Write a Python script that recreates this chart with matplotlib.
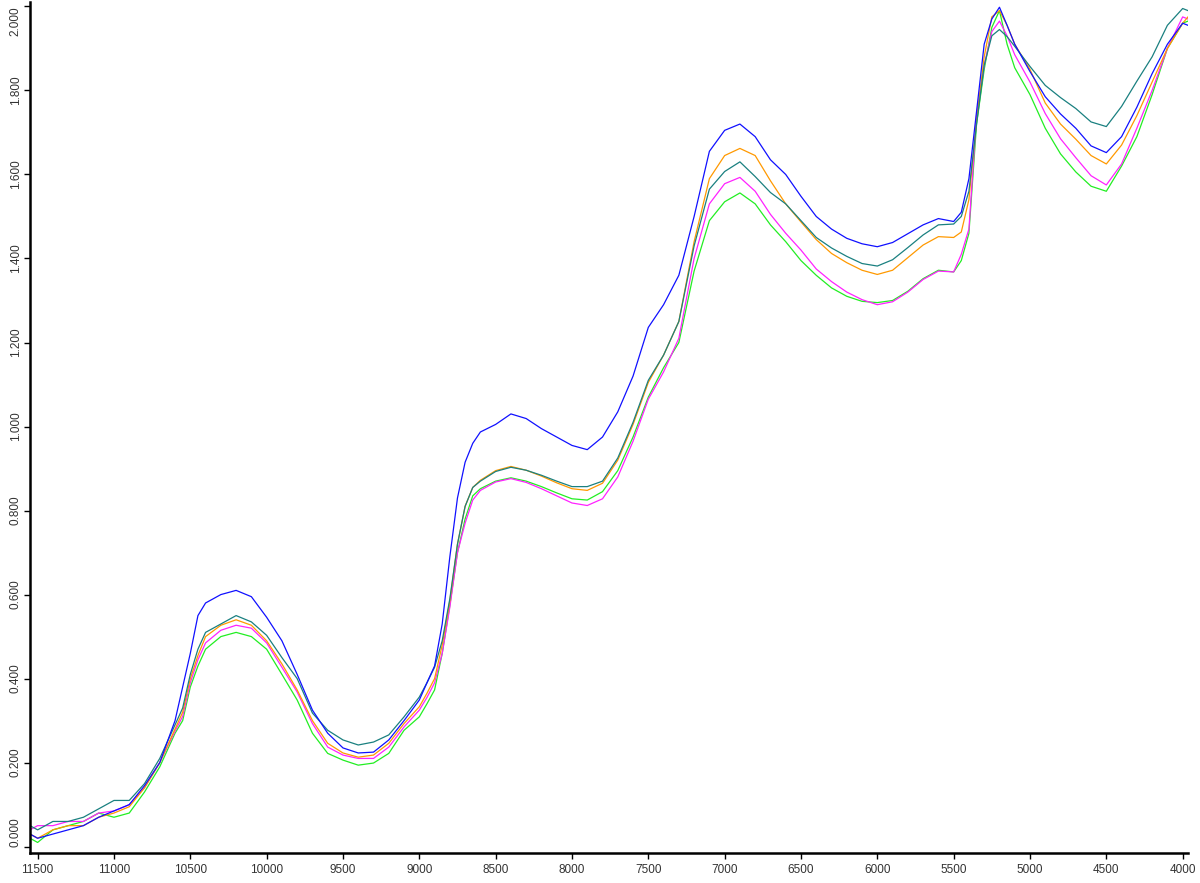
import matplotlib
matplotlib.use("Agg")
import matplotlib.pyplot as plt
from matplotlib.ticker import FormatStrFormatter

plt.rcParams["font.family"] = ["Liberation Sans", "DejaVu Sans"]

wavenumber = [11550, 11500, 11400, 11300, 11200, 11100, 11000, 10900, 10800, 10700,
              10600, 10550, 10500, 10450, 10400, 10300, 10200, 10100, 10000, 9900,
              9800, 9700, 9600, 9500, 9400, 9300, 9200, 9100, 9000, 8950,
              8900, 8850, 8800, 8750, 8700, 8650, 8600, 8500, 8400, 8300,
              8200, 8100, 8000, 7900, 7800, 7700, 7600, 7500, 7400, 7300,
              7200, 7100, 7000, 6900, 6800, 6700, 6600, 6500, 6400, 6300,
              6200, 6100, 6000, 5900, 5800, 5700, 5600, 5500, 5450, 5400,
              5350, 5300, 5250, 5200, 5150, 5100, 5000, 4900, 4800, 4700,
              4600, 4500, 4400, 4300, 4200, 4100, 4000, 3965]

blue = [0.03, 0.02, 0.03, 0.04, 0.05, 0.07, 0.085, 0.10, 0.145, 0.20,
        0.30, 0.38, 0.46, 0.55, 0.58, 0.60, 0.61, 0.595, 0.546, 0.49,
        0.41, 0.325, 0.27, 0.235, 0.223, 0.225, 0.254, 0.30, 0.349, 0.39,
        0.43, 0.53, 0.69, 0.83, 0.915, 0.96, 0.987, 1.005, 1.03, 1.019,
        0.995, 0.975, 0.955, 0.945, 0.975, 1.035, 1.12, 1.236, 1.29, 1.36,
        1.50, 1.655, 1.705, 1.72, 1.69, 1.635, 1.60, 1.548, 1.50, 1.47,
        1.448, 1.435, 1.428, 1.438, 1.459, 1.48, 1.495, 1.488, 1.51, 1.59,
        1.75, 1.91, 1.97, 1.998, 1.955, 1.91, 1.845, 1.785, 1.744, 1.71,
        1.668, 1.652, 1.69, 1.76, 1.84, 1.91, 1.96, 1.955]

teal = [0.05, 0.04, 0.06, 0.06, 0.07, 0.09, 0.11, 0.11, 0.15, 0.21,
        0.29, 0.33, 0.41, 0.47, 0.51, 0.53, 0.55, 0.535, 0.503, 0.45,
        0.40, 0.318, 0.277, 0.254, 0.242, 0.249, 0.266, 0.309, 0.356, 0.39,
        0.427, 0.49, 0.59, 0.72, 0.81, 0.855, 0.87, 0.893, 0.903, 0.896,
        0.884, 0.87, 0.857, 0.857, 0.87, 0.925, 1.01, 1.11, 1.17, 1.25,
        1.43, 1.565, 1.607, 1.63, 1.595, 1.557, 1.53, 1.49, 1.45, 1.425,
        1.405, 1.388, 1.382, 1.397, 1.426, 1.456, 1.48, 1.482, 1.50, 1.56,
        1.72, 1.86, 1.93, 1.945, 1.928, 1.905, 1.857, 1.812, 1.783, 1.757,
        1.725, 1.714, 1.762, 1.822, 1.88, 1.955, 1.995, 1.99]

orange = [0.03, 0.02, 0.04, 0.05, 0.05, 0.07, 0.08, 0.095, 0.14, 0.20,
          0.28, 0.32, 0.40, 0.455, 0.50, 0.527, 0.54, 0.527, 0.49, 0.435,
          0.373, 0.30, 0.246, 0.223, 0.213, 0.218, 0.246, 0.293, 0.333, 0.365,
          0.40, 0.48, 0.585, 0.72, 0.81, 0.855, 0.872, 0.895, 0.905, 0.896,
          0.882, 0.866, 0.852, 0.848, 0.865, 0.92, 1.005, 1.105, 1.17, 1.25,
          1.44, 1.59, 1.645, 1.662, 1.645, 1.585, 1.53, 1.487, 1.445, 1.412,
          1.39, 1.372, 1.362, 1.372, 1.402, 1.432, 1.452, 1.45, 1.463, 1.54,
          1.73, 1.88, 1.975, 1.99, 1.955, 1.91, 1.85, 1.77, 1.72, 1.684,
          1.645, 1.625, 1.67, 1.74, 1.82, 1.90, 1.96, 1.975]

magenta = [0.04, 0.05, 0.05, 0.06, 0.06, 0.08, 0.085, 0.10, 0.14, 0.20,
           0.275, 0.31, 0.39, 0.445, 0.485, 0.515, 0.527, 0.52, 0.485, 0.427,
           0.368, 0.293, 0.237, 0.218, 0.21, 0.21, 0.237, 0.285, 0.325, 0.355,
           0.39, 0.46, 0.57, 0.70, 0.77, 0.825, 0.848, 0.868, 0.876, 0.867,
           0.852, 0.835, 0.818, 0.812, 0.828, 0.88, 0.965, 1.065, 1.13, 1.21,
           1.40, 1.53, 1.578, 1.593, 1.56, 1.505, 1.46, 1.42, 1.375, 1.345,
           1.32, 1.302, 1.29, 1.297, 1.32, 1.35, 1.37, 1.368, 1.41, 1.47,
           1.74, 1.86, 1.94, 1.965, 1.93, 1.885, 1.82, 1.745, 1.685, 1.64,
           1.597, 1.575, 1.625, 1.71, 1.80, 1.90, 1.975, 1.97]

green = [0.02, 0.01, 0.04, 0.05, 0.06, 0.08, 0.07, 0.08, 0.13, 0.19,
         0.27, 0.30, 0.38, 0.43, 0.47, 0.50, 0.51, 0.50, 0.47, 0.41,
         0.349, 0.27, 0.222, 0.206, 0.194, 0.199, 0.222, 0.277, 0.309, 0.34,
         0.373, 0.46, 0.575, 0.70, 0.78, 0.835, 0.852, 0.87, 0.878, 0.87,
         0.857, 0.842, 0.828, 0.825, 0.845, 0.895, 0.975, 1.07, 1.14, 1.20,
         1.37, 1.49, 1.535, 1.556, 1.53, 1.48, 1.44, 1.395, 1.36, 1.33,
         1.31, 1.298, 1.295, 1.30, 1.322, 1.352, 1.372, 1.368, 1.395, 1.46,
         1.72, 1.85, 1.95, 1.99, 1.91, 1.854, 1.79, 1.71, 1.649, 1.606,
         1.572, 1.56, 1.62, 1.69, 1.79, 1.90, 1.96, 1.965]

series = [
    (green, "#22ee22"),
    (magenta, "#ff22ff"),
    (orange, "#ff9900"),
    (teal, "#1a8080"),
    (blue, "#1010ff"),
]

x_ticks = [11500, 11000, 10500, 10000, 9500, 9000, 8500, 8000, 7500, 7000,
           6500, 6000, 5500, 5000, 4500, 4000]
y_ticks = [0.0, 0.2, 0.4, 0.6, 0.8, 1.0, 1.2, 1.4, 1.6, 1.8, 2.0]

fig = plt.figure(figsize=(12, 8.83), dpi=100)
ax = fig.add_axes([0.025, 0.0345, 0.965, 0.963])

for vals, col in series:
    ax.plot(wavenumber, vals, color=col, lw=0.9)

ax.set_xlim(11550, 3965)
ax.set_ylim(-0.014, 2.01)
ax.set_xticks(x_ticks)
ax.set_xticklabels([str(t) for t in x_ticks])
ax.set_yticks(y_ticks)
ax.yaxis.set_major_formatter(FormatStrFormatter("%.3f"))

for s in ["top", "right"]:
    ax.spines[s].set_visible(False)
for s in ["left", "bottom"]:
    ax.spines[s].set_linewidth(1.8)
    ax.spines[s].set_color("black")

ax.tick_params(axis="both", direction="out", length=4, width=1, colors="black",
               labelcolor="#333333", labelsize=8.5)
ax.tick_params(axis="x", pad=4)
ax.tick_params(axis="y", pad=2)

fig.canvas.draw()
ylabels = ax.get_yticklabels()
for lab in ylabels:
    lab.set_rotation(90)
    lab.set_va("center")
ylabels[-1].set_va("top")
ylabels[0].set_va("bottom")

fig.savefig("out.png", dpi=100)
